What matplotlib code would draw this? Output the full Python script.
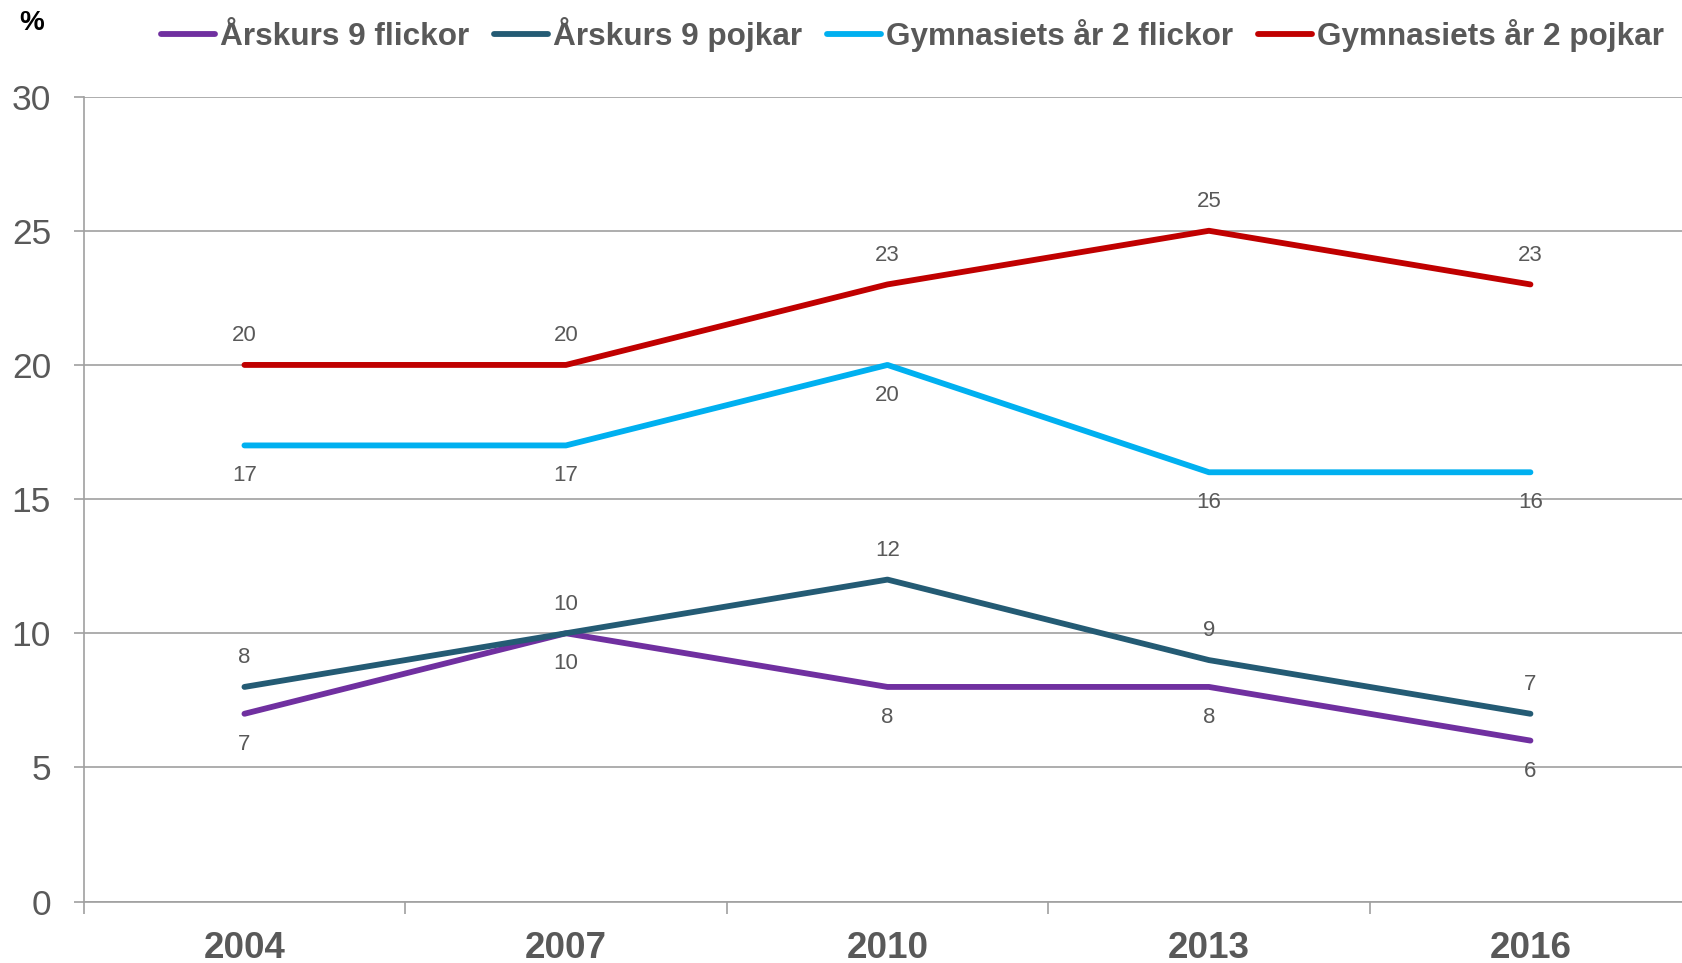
import matplotlib
matplotlib.use("Agg")
import matplotlib.pyplot as plt
from matplotlib.ticker import FixedLocator

years = ["2004", "2007", "2010", "2013", "2016"]
series_names = ["Årskurs 9 flickor", "Årskurs 9 pojkar",
                "Gymnasiets år 2 flickor", "Gymnasiets år 2 pojkar"]
ak9_flickor = [7, 10, 8, 8, 6]
ak9_pojkar = [8, 10, 12, 9, 7]
gy2_flickor = [17, 17, 20, 16, 16]
gy2_pojkar = [20, 20, 23, 25, 23]
y_ticks = [0, 5, 10, 15, 20, 25, 30]

colors = ["#7030A0", "#245B74", "#00B0F0", "#C00000"]
label_side = [-1, 1, -1, 1]  # -1 below, +1 above

plt.rcParams['font.family'] = ['Liberation Sans', 'DejaVu Sans']

fig = plt.figure(figsize=(16.83, 9.63), dpi=100)
ax = fig.add_axes([83.7 / 1683, 1 - 901.6 / 963, 5 * 321.5 / 1683, (901.6 - 96.6) / 963])

x = list(range(len(years)))
all_series = [ak9_flickor, ak9_pojkar, gy2_flickor, gy2_pojkar]
grey = "#A0A0A0"
text_grey = "#595959"

for vals, name, col, side in zip(all_series, series_names, colors, label_side):
    ax.plot(x, vals, color=col, lw=4.2, solid_capstyle='round', label=name, zorder=3)
    for xi, v in zip(x, vals):
        ax.annotate(str(v), (xi, v), xytext=(0, 21 if side > 0 else -22),
                    textcoords='offset points', ha='center', va='center',
                    fontsize=16, color=text_grey)

ax.set_xlim(-0.5, len(years) - 0.5)
ax.set_ylim(0, 30)
ax.set_yticks(y_ticks)
ax.set_yticklabels([str(t) for t in y_ticks])
ax.yaxis.grid(True, color=grey, lw=1.2)
ax.set_axisbelow(True)

ax.xaxis.set_major_locator(FixedLocator(x))
ax.set_xticklabels(years)
ax.xaxis.set_minor_locator(FixedLocator([i - 0.5 for i in range(len(years) + 1)]))
ax.tick_params(axis='x', which='major', length=0, pad=21, labelsize=26.5, labelcolor=text_grey)
ax.tick_params(axis='x', which='minor', length=8.5, width=1.2, color=grey, direction='out')
for lab in ax.get_xticklabels():
    lab.set_fontweight('bold')
ax.tick_params(axis='y', length=7.5, width=1.2, color=grey, direction='out',
               pad=16, labelsize=25.5, labelcolor=text_grey)

for s in ['top', 'right']:
    ax.spines[s].set_visible(False)
for s in ['left', 'bottom']:
    ax.spines[s].set_color(grey)
    ax.spines[s].set_linewidth(1.2)

fig.text(32 / 1683, 1 - 23 / 963, "%", fontsize=20, fontweight='bold', color='black',
         ha='center', va='center')

leg = fig.legend(loc='center left', bbox_to_anchor=(161 / 1683, 1 - 35 / 963),
                 ncol=4, frameon=False, borderpad=0, borderaxespad=0,
                 handlelength=1.72, handletextpad=0.14, columnspacing=0.8,
                 prop={'size': 22.7, 'weight': 'bold'})
for t in leg.get_texts():
    t.set_color(text_grey)
for h in leg.get_lines():
    h.set_linewidth(4.2)

fig.savefig("out.png", dpi=100)
